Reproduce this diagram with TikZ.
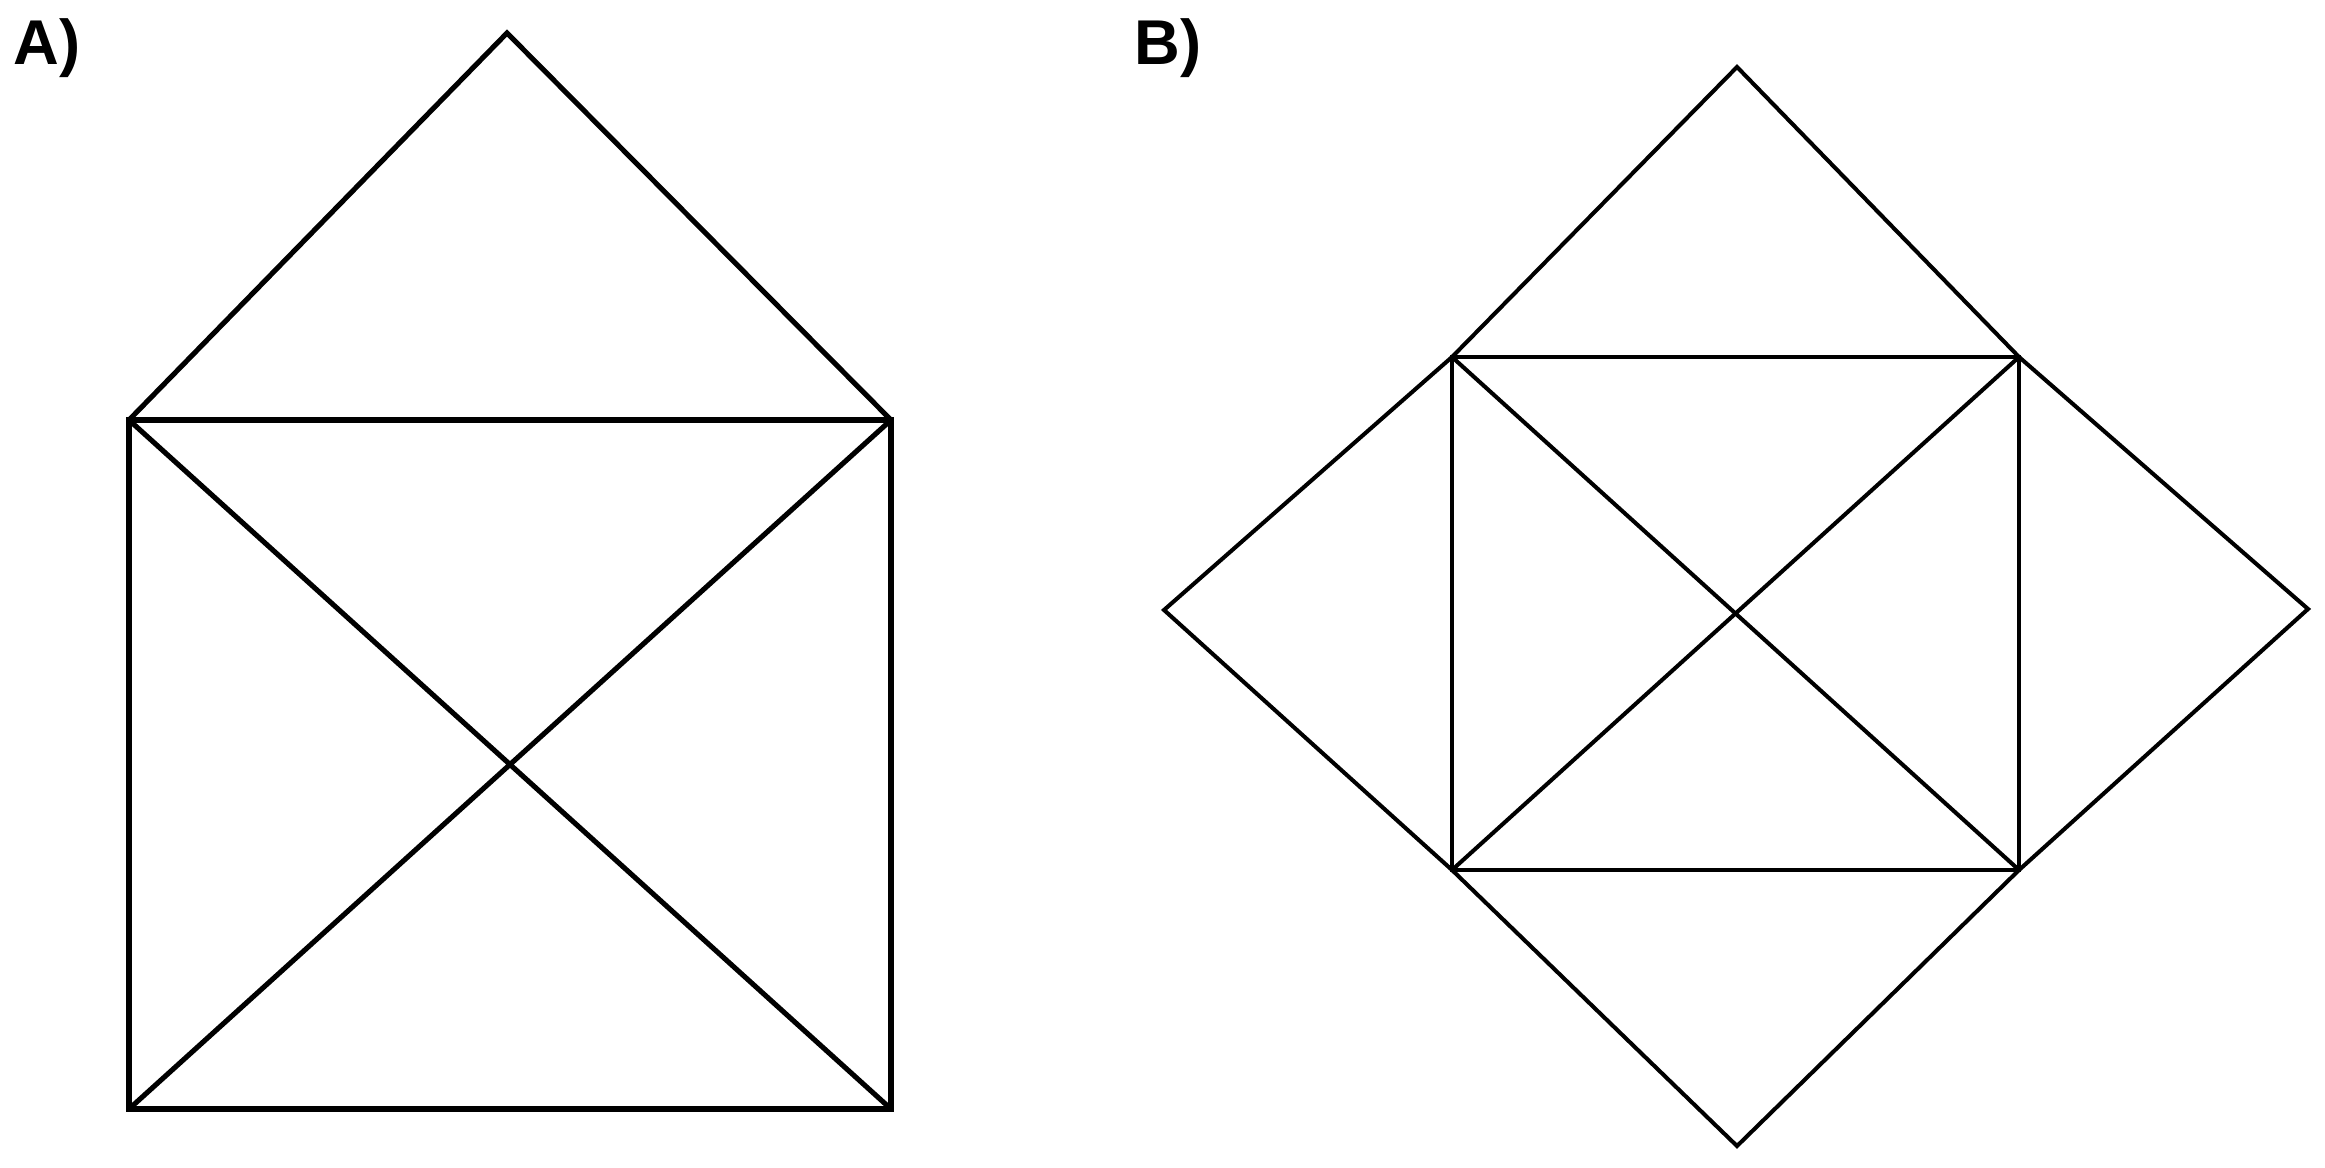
\documentclass[tikz,border=0pt]{standalone}
\usepackage{fontspec}
\setmainfont{Liberation Sans}
\begin{document}
\begin{tikzpicture}[x=0.01cm,y=-0.01cm,
  thickline/.style={line width=1.45pt,line join=miter},
  thinline/.style={line width=1.15pt,line join=miter},
  lbl/.style={font=\bfseries\fontsize{18}{20}\selectfont,inner sep=0pt}]
\useasboundingbox[fill=white] (0,0) rectangle (2325,1167);
% Labels
\node[lbl] (la) at (47,48) {A)};
\node[lbl] (lb) at (1168,48) {B)};
% Figure A
\coordinate (aApex) at (507,33);
\coordinate (aTL) at (129,420);
\coordinate (aTR) at (891,420);
\coordinate (aBL) at (129,1109);
\coordinate (aBR) at (891,1109);
\draw[thickline] (aTL) -- (aApex) -- (aTR);
\draw[thickline] (aTL) -- (aTR) -- (aBR) -- (aBL) -- cycle;
\draw[thickline] (aTL) -- (aBR);
\draw[thickline] (aTR) -- (aBL);
% Figure B
\coordinate (bTop) at (1737,67);
\coordinate (bLeft) at (1164,610);
\coordinate (bRight) at (2308,609);
\coordinate (bBot) at (1737,1146);
\coordinate (bTL) at (1452,357);
\coordinate (bTR) at (2019,357);
\coordinate (bBL) at (1452,870);
\coordinate (bBR) at (2019,870);
\draw[thinline] (bTop) -- (bTL) -- (bLeft) -- (bBL) -- (bBot) -- (bBR) -- (bRight) -- (bTR) -- cycle;
\draw[thinline] (bTL) -- (bTR) -- (bBR) -- (bBL) -- cycle;
\draw[thinline] (bTL) -- (bBR);
\draw[thinline] (bTR) -- (bBL);
\end{tikzpicture}
\end{document}
